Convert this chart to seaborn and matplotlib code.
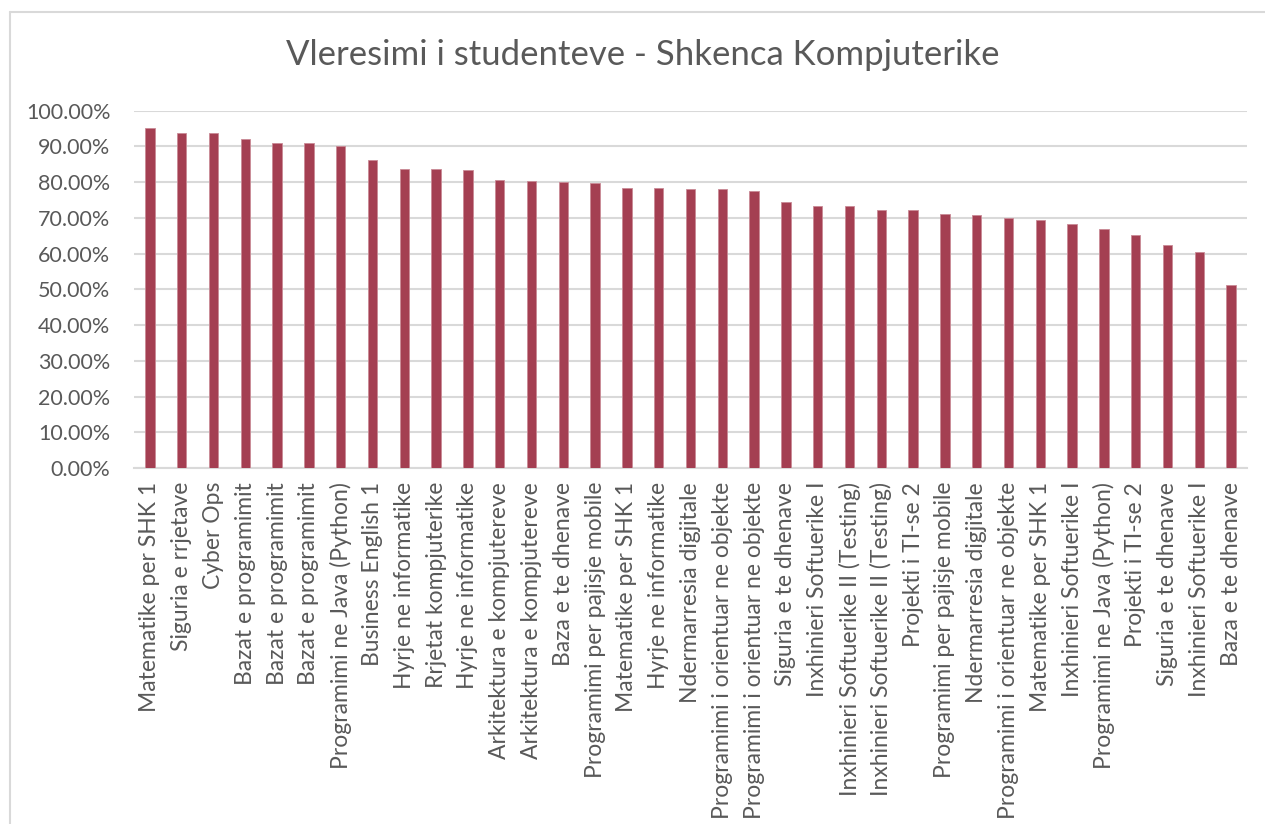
import numpy as np
import pandas as pd
import matplotlib
matplotlib.use("Agg")
import matplotlib.pyplot as plt
from matplotlib.lines import Line2D
from matplotlib.ticker import PercentFormatter
import seaborn as sns

courses = [
    "Matematike per SHK 1", "Siguria e rrjetave", "Cyber Ops",
    "Bazat e programimit", "Bazat e programimit", "Bazat e programimit",
    "Programimi ne Java (Python)", "Business English 1", "Hyrje ne informatike",
    "Rrjetat kompjuterike", "Hyrje ne informatike", "Arkitektura e kompjutereve",
    "Arkitektura e kompjutereve", "Baza e te dhenave", "Programimi per pajisje mobile",
    "Matematike per SHK 1", "Hyrje ne informatike", "Ndermarresia digjitale",
    "Programimi i orientuar ne objekte", "Programimi i orientuar ne objekte",
    "Siguria e te dhenave", "Inxhinieri Softuerike I",
    "Inxhinieri Softuerike II (Testing)", "Inxhinieri Softuerike II (Testing)",
    "Projekti i TI-se 2", "Programimi per pajisje mobile", "Ndermarresia digjitale",
    "Programimi i orientuar ne objekte", "Matematike per SHK 1",
    "Inxhinieri Softuerike I", "Programimi ne Java (Python)", "Projekti i TI-se 2",
    "Siguria e te dhenave", "Inxhinieri Softuerike I", "Baza e te dhenave",
]
scores = [
    95.1, 93.8, 93.8, 92.1, 90.9, 90.9, 90.0, 86.3, 83.8, 83.8,
    83.5, 80.6, 80.4, 80.0, 79.9, 78.5, 78.4, 78.1, 78.0, 77.5,
    74.4, 73.3, 73.3, 72.1, 72.1, 71.0, 70.8, 70.1, 69.3, 68.2,
    66.9, 65.2, 62.4, 60.5, 51.1,
]

df = pd.DataFrame({"pos": [str(i) for i in range(len(courses))],
                   "score": np.array(scores) / 100})

sns.set_theme(style="white")
plt.rcParams["font.family"] = ["Lato", "DejaVu Sans"]
txt = "#595959"
grid_c = "#D9D9D9"

fig = plt.figure(figsize=(12.65, 8.24), dpi=100)
ax = fig.add_axes([134 / 1265, 1 - 468 / 824, (1247 - 134) / 1265, (468 - 110.7) / 824])

sns.barplot(data=df, x="pos", y="score", color="#A43F52", saturation=1,
            width=0.3, edgecolor="#C98A96", linewidth=0.6, ax=ax, zorder=3)

ax.set_ylim(0, 1.0)
ax.set_yticks(np.arange(0, 1.01, 0.1))
ax.yaxis.set_major_formatter(PercentFormatter(1.0, decimals=2))
ax.set_xlim(-0.5, len(courses) - 0.5)
ax.set_xticks(range(len(courses)))
ax.set_xticklabels(courses, rotation=90, ha="center", va="top")
ax.tick_params(axis="both", length=0, colors=txt, labelsize=15.5)
ax.tick_params(axis="x", pad=10, labelsize=16.5)
ax.tick_params(axis="y", pad=17)
ax.grid(axis="y", color=grid_c, linewidth=1.5, zorder=0)
ax.set_axisbelow(True)
ax.set_xlabel("")
ax.set_ylabel("")
for s in ["top", "right", "left"]:
    ax.spines[s].set_visible(False)
ax.spines["bottom"].set_color(grid_c)
ax.spines["bottom"].set_linewidth(1.5)

fig.text(643 / 1265, 1 - 55 / 824, "Vleresimi i studenteve - Shkenca Kompjuterike",
         ha="center", va="center", fontsize=25, color=txt)

# chart area border (cropped at right and bottom)
fig.add_artist(Line2D([10 / 1265, 1.0], [1 - 12 / 824, 1 - 12 / 824],
                      transform=fig.transFigure, color=grid_c, linewidth=1.5))
fig.add_artist(Line2D([10 / 1265, 10 / 1265], [0, 1 - 12 / 824],
                      transform=fig.transFigure, color=grid_c, linewidth=1.5))

fig.savefig("out.png", dpi=100)
